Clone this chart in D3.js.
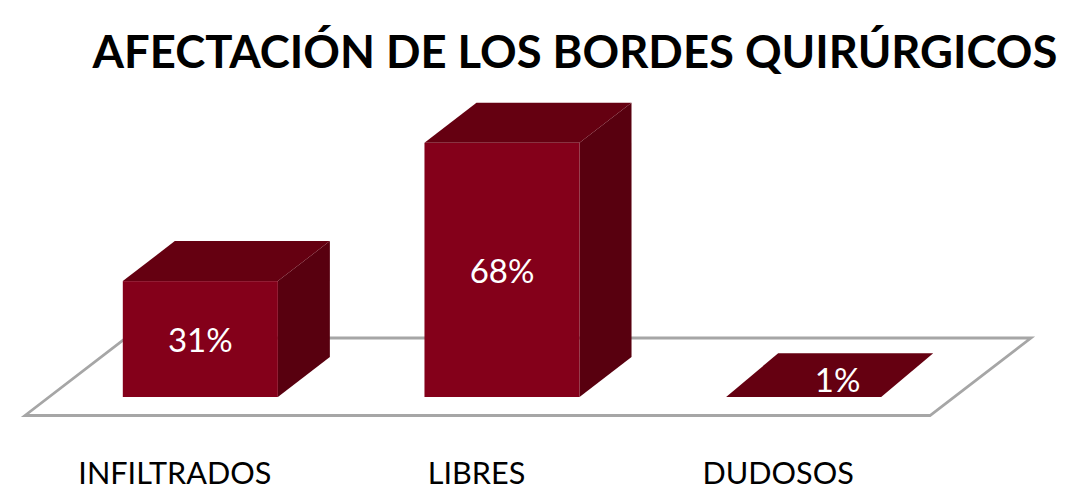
<!DOCTYPE html>
<html>
<head>
<meta charset="utf-8">
<script src="https://cdnjs.cloudflare.com/ajax/libs/d3/7.8.5/d3.min.js"></script>
<style>
  html, body { margin: 0; padding: 0; background: #fff; overflow: hidden; }
  text { font-family: Lato, "Open Sans", sans-serif; }
  .axis path, .axis line { display: none; }
</style>
</head>
<body>
<script>
const categories = ["INFILTRADOS", "LIBRES", "DUDOSOS"];
const values = [31, 68, 1];
const valueLabels = ["31%", "68%", "1%"];
const titleText = "AFECTACIÓN DE LOS BORDES QUIRÚRGICOS";

const width = 1084;
const height = 487;

// plot floor, depth of the fake 3d and how far bars sit back from the floor edge
const floor = { left: 25, right: 930, front: 415.5 };
const depth = { x: 52, y: 40 };
const floorDepth = { x: 101, y: 77.5 };
const inset = { x: 24.5, y: 18.5 };

const svg = d3.select("body")
    .append("svg")
    .attr("width", width)
    .attr("height", height)
    .style("display", "block");

const x = d3.scaleBand()
    .domain(categories)
    .range([floor.left, floor.right])
    .paddingInner(0.486)
    .paddingOuter(0.243);

const baseline = floor.front - inset.y;
const y = d3.scaleLinear()
    .domain([0, 68])
    .range([baseline, 142.8]);

const data = categories.map((c, i) => ({ cat: c, value: values[i], label: valueLabels[i] }));
const poly = pts => pts.map(p => p.join(",")).join(" ");

// floor
svg.append("polygon")
    .attr("points", poly([
        [floor.left, floor.front],
        [floor.right, floor.front],
        [floor.right + floorDepth.x, floor.front - floorDepth.y],
        [floor.left + floorDepth.x, floor.front - floorDepth.y]
    ]))
    .attr("fill", "#fff")
    .attr("stroke", "#a6a6a6")
    .attr("stroke-width", 2.8);

const bars = svg.append("g")
    .selectAll("g")
    .data(data)
    .enter().append("g");

const left = d => x(d.cat) + inset.x;
const right = d => left(d) + x.bandwidth();
// a bar this short shows only its top face in the reference
const isFlat = d => baseline - y(d.value) < 5;

bars.filter(d => !isFlat(d)).append("polygon")
    .attr("points", d => poly([
        [right(d), y(d.value)],
        [right(d) + depth.x, y(d.value) - depth.y],
        [right(d) + depth.x, baseline - depth.y],
        [right(d), baseline]
    ]))
    .attr("fill", "#58000f");

bars.append("polygon")
    .attr("points", d => {
        const frontY = isFlat(d) ? baseline : y(d.value);
        return poly([
            [left(d), frontY],
            [left(d) + depth.x, y(d.value) - depth.y],
            [right(d) + depth.x, y(d.value) - depth.y],
            [right(d), frontY]
        ]);
    })
    .attr("fill", "#650011");

bars.filter(d => !isFlat(d)).append("rect")
    .attr("x", left)
    .attr("y", d => y(d.value))
    .attr("width", x.bandwidth())
    .attr("height", d => baseline - y(d.value))
    .attr("fill", "#84001a");

// value labels
bars.append("text")
    .attr("x", d => isFlat(d) ? left(d) + x.bandwidth() / 2 + 34 : left(d) + x.bandwidth() / 2)
    .attr("y", d => isFlat(d) ? 391.5 : (y(d.value) + baseline) / 2 + 13)
    .attr("text-anchor", "middle")
    .attr("fill", "#fff")
    .attr("font-size", 33)
    .text(d => d.label);

// category axis
svg.append("g")
    .attr("class", "axis")
    .attr("transform", `translate(-1,${floor.front})`)
    .call(d3.axisBottom(x).tickSize(0).tickPadding(47))
    .selectAll("text")
    .attr("font-size", 30.6)
    .attr("fill", "#000")
    .style("font-family", "Lato, 'Open Sans', sans-serif");

svg.append("text")
    .attr("x", 575)
    .attr("y", 68)
    .attr("text-anchor", "middle")
    .attr("font-size", 45.4)
    .attr("font-weight", "bold")
    .attr("fill", "#000")
    .text(titleText);
</script>
</body>
</html>
